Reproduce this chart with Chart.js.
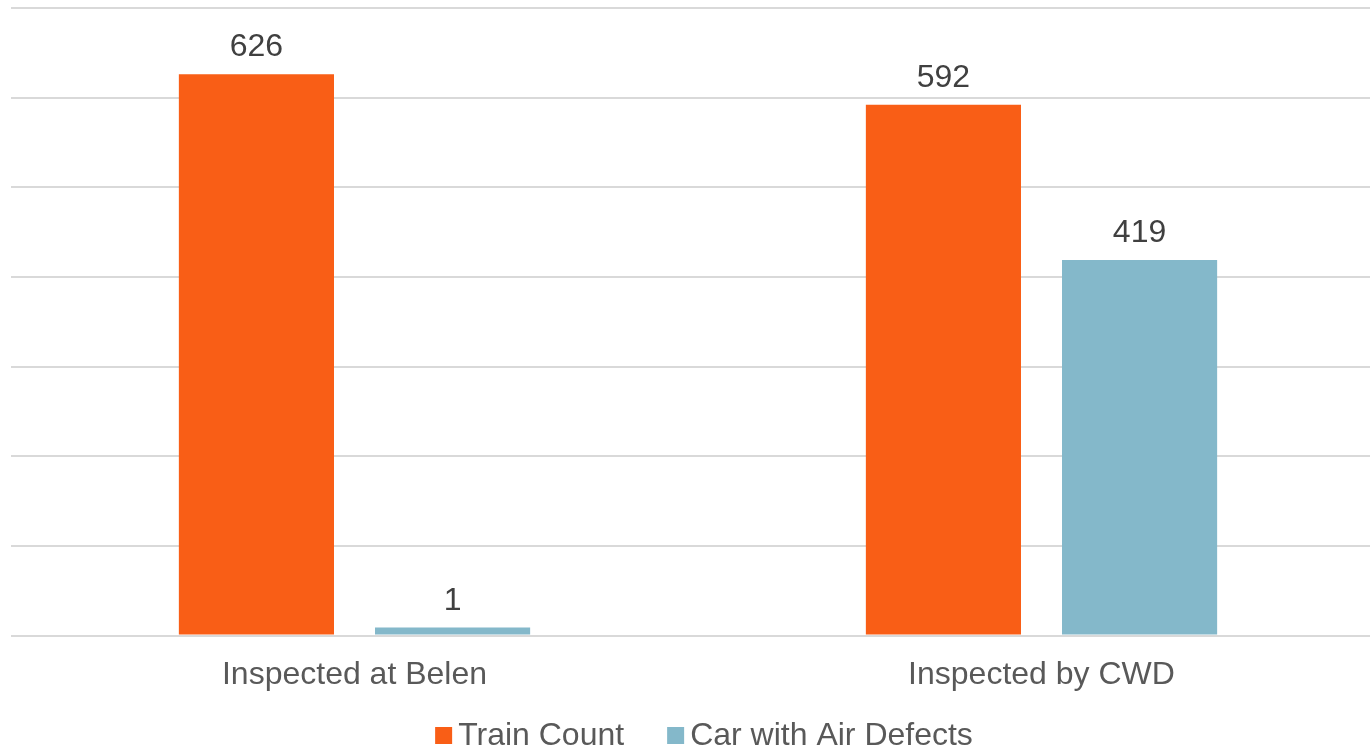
<!DOCTYPE html>
<html>
<head>
<meta charset="utf-8">
<script src="https://cdn.jsdelivr.net/npm/chart.js@4.4.1/dist/chart.umd.min.js"></script>
<style>
  html, body { margin: 0; padding: 0; background: #ffffff; overflow: hidden; }
  #wrap { width: 1396px; height: 747px; }
</style>
</head>
<body>
<div id="wrap"><canvas id="chart" width="1396" height="747"></canvas></div>
<script>
// Inspection results per location
const categories = ["Inspected at Belen", "Inspected by CWD"];
const trainCount = [626, 592];
const carAirDefects = [1, 419];
const seriesNames = ["Train Count", "Car with Air Defects"];
const yTicks = [0, 100, 200, 300, 400, 500, 600, 700];

const ORANGE = "#F95E16";
const BLUE = "#84B8CA";
const FONT = "'Liberation Sans', Arial, sans-serif";

// Value printed above each bar
const valueLabels = {
  id: "valueLabels",
  afterDatasetsDraw(chart) {
    const ctx = chart.ctx;
    ctx.save();
    ctx.font = "32px " + FONT;
    ctx.fillStyle = "#404040";
    ctx.textAlign = "center";
    ctx.textBaseline = "alphabetic";
    chart.data.datasets.forEach((ds, i) => {
      chart.getDatasetMeta(i).data.forEach((bar, j) => {
        ctx.fillText(String(ds.data[j]), bar.x, bar.y - 18);
      });
    });
    ctx.restore();
  }
};

// Centered legend row along the bottom edge
const bottomLegend = {
  id: "bottomLegend",
  afterDraw(chart) {
    const ctx = chart.ctx;
    ctx.save();
    ctx.font = "32px " + FONT;
    ctx.textBaseline = "alphabetic";
    ctx.textAlign = "left";
    const box = 17, gapBox = 6, gapItem = 43;
    const items = chart.data.datasets.map(ds => ({
      text: ds.label, color: ds.backgroundColor, w: ctx.measureText(ds.label).width
    }));
    let total = 0;
    items.forEach((it, k) => { total += box + gapBox + it.w + (k ? gapItem : 0); });
    const area = chart.chartArea;
    let x = (area.left + area.right) / 2 - total / 2 + 6;
    const baseline = 745;
    items.forEach(it => {
      ctx.fillStyle = it.color;
      ctx.fillRect(x, baseline - 18, box, box);
      ctx.fillStyle = "#595959";
      ctx.fillText(it.text, x + box + gapBox, baseline);
      x += box + gapBox + it.w + gapItem;
    });
    ctx.restore();
  }
};

new Chart(document.getElementById("chart"), {
  type: "bar",
  data: {
    labels: categories,
    datasets: [
      { label: seriesNames[0], data: trainCount, backgroundColor: ORANGE },
      { label: seriesNames[1], data: carAirDefects, backgroundColor: BLUE, minBarLength: 8 }
    ]
  },
  options: {
    responsive: false,
    animation: false,
    events: [],
    layout: { padding: { left: 11, right: 11, top: 8, bottom: 33 } },
    datasets: { bar: { categoryPercentage: 0.571, barPercentage: 0.791 } },
    plugins: {
      legend: { display: false },
      tooltip: { enabled: false }
    },
    scales: {
      x: {
        grid: { display: false, drawTicks: false },
        border: { display: false },
        ticks: {
          padding: 20,
          color: "#595959",
          font: { family: FONT, size: 32 }
        }
      },
      y: {
        min: yTicks[0],
        max: yTicks[yTicks.length - 1],
        afterBuildTicks(scale) { scale.ticks = yTicks.map(v => ({ value: v })); },
        afterFit(scale) { scale.width = 0; },
        grid: { color: "#d9d9d9", lineWidth: 2, drawTicks: false },
        border: { display: false },
        ticks: { display: false }
      }
    }
  },
  plugins: [valueLabels, bottomLegend]
});
</script>
</body>
</html>
